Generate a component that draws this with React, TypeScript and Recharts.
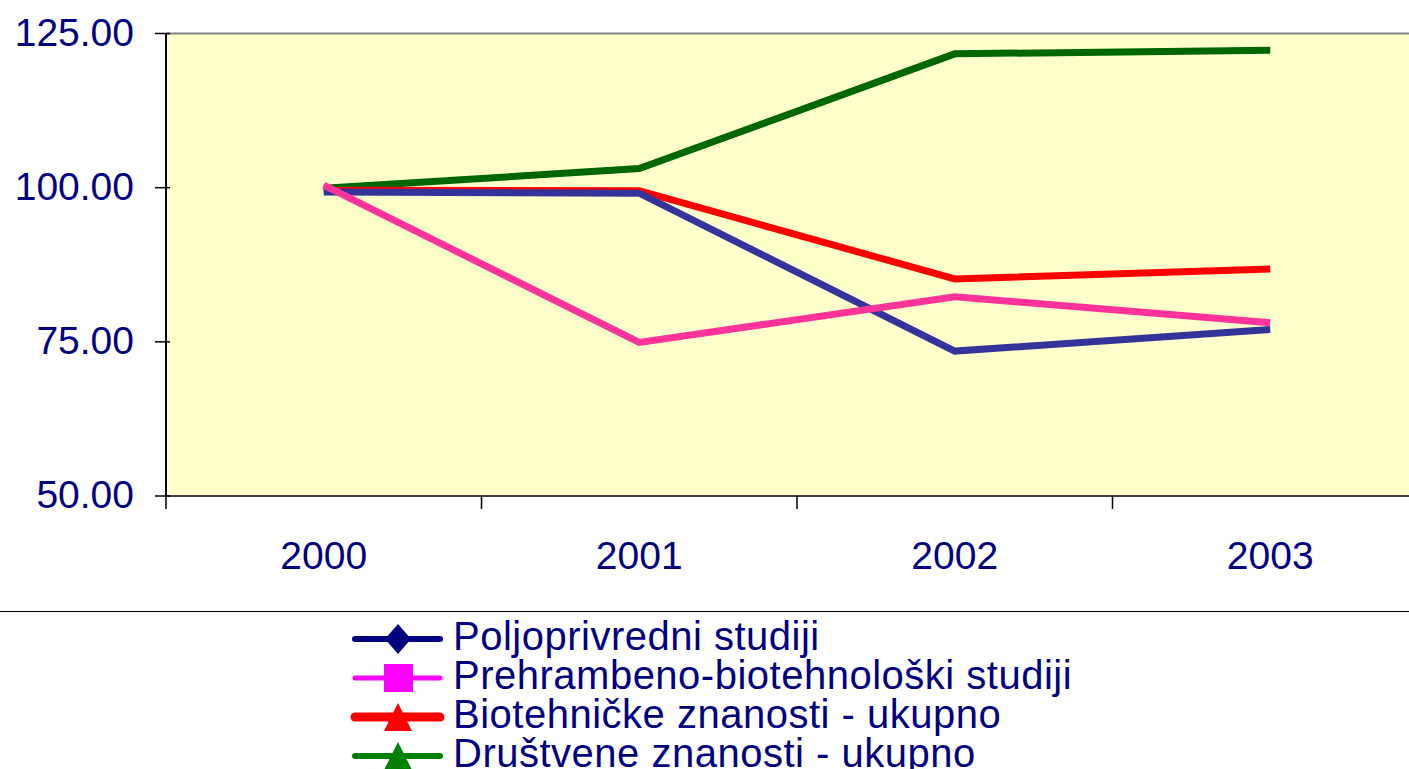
import { LineChart, Line, XAxis, YAxis, CartesianGrid, ReferenceLine, Legend } from 'recharts'

const YEARS = ['2000', '2001', '2002', '2003']
const POLJOPRIVREDNI = [99.3, 99.1, 73.5, 77.0]
const PREHRAMBENO = [100.4, 74.9, 82.3, 78.1]
const BIOTEHNICKE = [99.6, 99.5, 85.2, 86.8]
const DRUSTVENE = [99.9, 103.1, 121.7, 122.3]
const Y_TICKS = [50, 75, 100, 125]

const data = YEARS.map((year, i) => ({
  year,
  polj: POLJOPRIVREDNI[i],
  preh: PREHRAMBENO[i],
  biot: BIOTEHNICKE[i],
  drus: DRUSTVENE[i],
}))

const FONT = '"Liberation Sans", Arial, sans-serif'
const NAVY = '#000080'

// legend order; line colours in the plot differ a bit from the legend swatches
const SERIES = [
  { key: 'polj', label: 'Poljoprivredni studiji', line: '#333399', swatch: '#000080', sw: 6, marker: 'diamond' },
  { key: 'preh', label: 'Prehrambeno-biotehnološki studiji', line: '#FF3399', swatch: '#FF00FF', sw: 5, marker: 'square' },
  { key: 'biot', label: 'Biotehničke znanosti - ukupno', line: '#FF0000', swatch: '#FF0000', sw: 9, marker: 'triangle' },
  { key: 'drus', label: 'Društvene znanosti - ukupno', line: '#006600', swatch: '#008000', sw: 6, marker: 'triangle' },
]

// drawing order in the plot (pink on top)
const DRAW_ORDER = ['drus', 'biot', 'polj', 'preh']

function YTick(props: any) {
  const { x, y, payload } = props
  return (
    <g>
      <line x1={x + 21} x2={x + 36} y1={y} y2={y} stroke="#000" strokeWidth={1.5} />
      <text x={x} y={y} dy={12} textAnchor="end" fill={NAVY} fontSize={39} fontFamily={FONT}>
        {Number(payload.value).toFixed(2)}
      </text>
    </g>
  )
}

function XTick(props: any) {
  const { x, y, payload } = props
  const half = payload.offset ?? 157.75
  return (
    <g>
      <line x1={x - half} x2={x - half} y1={y - 8} y2={y + 5} stroke="#000" strokeWidth={1.5} />
      <text x={x} y={y} dy={65} textAnchor="middle" fill={NAVY} fontSize={39} fontFamily={FONT}>
        {payload.value}
      </text>
    </g>
  )
}

function Marker({ type, color }: { type: string; color: string }) {
  if (type === 'diamond') return <polygon points="48,7 61,22 48,37 35,22" fill={color} />
  if (type === 'square') return <rect x={34} y={8} width={29} height={28} fill={color} />
  return <polygon points="48,8 62,36 34,36" fill={color} />
}

function LegendBox() {
  return (
    <div style={{ width: 1409, borderTop: '1px solid #000', paddingTop: 5, fontFamily: FONT }}>
      {SERIES.map(s => (
        <div key={s.key} style={{ display: 'flex', alignItems: 'flex-start', height: 39 }}>
          <svg width={96} height={39} style={{ marginLeft: 350, flexShrink: 0 }}>
            <line x1={5} x2={90} y1={22} y2={22} stroke={s.swatch} strokeWidth={s.sw} strokeLinecap="round" />
            <Marker type={s.marker} color={s.swatch} />
          </svg>
          <span style={{ marginLeft: 7, fontSize: 40, lineHeight: '39px', color: NAVY, letterSpacing: 0.5, whiteSpace: 'nowrap' }}>
            {s.label}
          </span>
        </div>
      ))}
    </div>
  )
}

export default function App() {
  return (
    <div style={{ position: 'absolute', left: 0, top: 0, width: 1409, height: 769, overflow: 'hidden', background: '#fff' }}>
      <LineChart width={1430} height={769} data={data} margin={{ top: 33.5, right: 2, left: 0, bottom: 213 }}>
        <CartesianGrid horizontal={false} vertical={false} fill="#FFFFCC" />
        <XAxis
          dataKey="year"
          scale="band"
          height={60}
          axisLine={{ stroke: '#404040', strokeWidth: 2 }}
          tickLine={false}
          tick={<XTick />}
        />
        <YAxis
          width={166}
          domain={[50, 125]}
          ticks={Y_TICKS}
          tickSize={11}
          tickMargin={21}
          axisLine={{ stroke: '#000', strokeWidth: 2 }}
          tickLine={false}
          tick={<YTick />}
        />
        <ReferenceLine y={125} stroke="#808080" strokeWidth={2} />
        {DRAW_ORDER.map(k => {
          const s = SERIES.find(x => x.key === k)!
          return (
            <Line
              key={s.key}
              type="linear"
              dataKey={s.key}
              name={s.label}
              stroke={s.line}
              strokeWidth={7}
              dot={false}
              activeDot={false}
              isAnimationActive={false}
            />
          )
        })}
        <Legend
          layout="vertical"
          align="center"
          verticalAlign="middle"
          content={<LegendBox />}
          wrapperStyle={{ position: 'absolute', top: 611, left: 0, width: 1409 }}
        />
      </LineChart>
    </div>
  )
}
